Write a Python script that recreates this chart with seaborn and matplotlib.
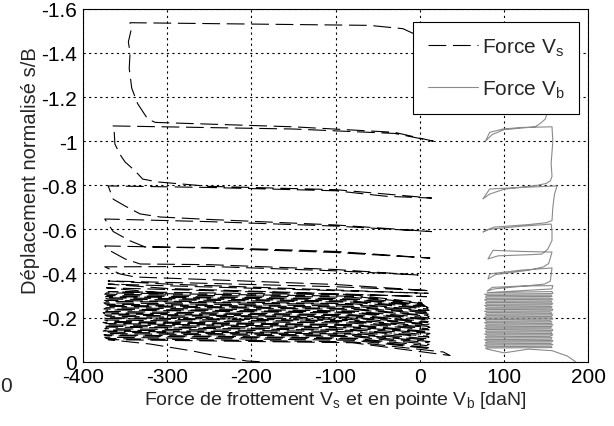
import numpy as np
import pandas as pd
import matplotlib
matplotlib.use("Agg")
import matplotlib.pyplot as plt
import seaborn as sns
from matplotlib import font_manager

# --- data (force in daN, normalised displacement s/B) ---

# Vs: first loading then the dense block of cycles
vs_start_x = [-190, -205, -240, -269, -320, -370]
vs_start_y = [0.0, -0.003, -0.025, -0.048, -0.080, -0.100]

vs_blk_left_x = [-368, -372, -374, -371, -375, -373, -370, -376, -372, -374, -371, -375, -373, -372, -376, -370,
                 -374, -373, -375, -371, -374, -372, -376, -373, -370, -375, -372, -374, -371, -373, -375, -372,
                 -374, -370, -375, -373, -371, -374, -372, -370]
vs_blk_left_y = [-0.100, -0.105, -0.111, -0.118, -0.122, -0.128, -0.134, -0.139, -0.144, -0.150, -0.157, -0.161,
                 -0.167, -0.173, -0.178, -0.183, -0.189, -0.196, -0.200, -0.206, -0.212, -0.217, -0.222, -0.228,
                 -0.235, -0.239, -0.245, -0.251, -0.256, -0.261, -0.267, -0.274, -0.278, -0.284, -0.290, -0.295,
                 -0.300, -0.306, -0.312, -0.318]
vs_blk_bend_x = -80
vs_blk_bend_y = [-0.086, -0.090, -0.097, -0.103, -0.107, -0.114, -0.119, -0.125, -0.129, -0.136, -0.142, -0.146,
                 -0.153, -0.158, -0.164, -0.168, -0.175, -0.181, -0.186, -0.191, -0.198, -0.202, -0.208, -0.213,
                 -0.220, -0.225, -0.230, -0.237, -0.241, -0.247, -0.252, -0.259, -0.263, -0.270, -0.275, -0.281,
                 -0.285, -0.292, -0.297, -0.303]
vs_blk_right_x = [36, 28, 14, 10, 8, 11, 9, 12, 10, 8, 11, 10, 9, 12, 8, 10,
                  11, 9, 12, 10, 8, 11, 9, 10, 12, 8, 10, 11, 9, 10, 12, 8,
                  11, 9, 10, 8, 6, 4, 3, 2]
vs_blk_right_y = [-0.028, -0.044, -0.058, -0.064, -0.073, -0.079, -0.087, -0.091, -0.098, -0.104, -0.111, -0.115,
                  -0.122, -0.128, -0.133, -0.137, -0.144, -0.150, -0.155, -0.160, -0.167, -0.171, -0.177, -0.182,
                  -0.189, -0.194, -0.199, -0.206, -0.210, -0.216, -0.221, -0.228, -0.232, -0.239, -0.244, -0.250,
                  -0.254, -0.259, -0.264, -0.268]

# Vs: the large strokes above the block
vs_up_x = [-300, -372, 8, -300, -370, 10, -300, -370,
           -250, -100, 12,
           -100, -250, -338, -356, -374,
           -250, -100, -2,
           -100, -250, -332, -350, -371, -374,
           -250, -100, 12,
           -100, -250, -326, -344, -364, -374,
           -250, -100, 14,
           -100, -250, -308, -332, -350, -364, -370,
           -250, -100, -40, 14,
           -100, -250, -311, -329, -338, -350, -356, -362, -363, -365,
           -150, -30, 16,
           -30, -150, -314, -323, -335, -338, -342, -345, -344, -346, -343, -344,
           -60, -20, -3]
vs_up_y = [-0.310, -0.335, -0.295, -0.332, -0.352, -0.310, -0.352, -0.366,
           -0.355, -0.340, -0.322,
           -0.350, -0.372, -0.384, -0.398, -0.430,
           -0.432, -0.412, -0.393,
           -0.418, -0.440, -0.443, -0.466, -0.510, -0.525,
           -0.515, -0.495, -0.470,
           -0.500, -0.518, -0.520, -0.548, -0.590, -0.647,
           -0.635, -0.615, -0.590,
           -0.620, -0.645, -0.656, -0.670, -0.706, -0.737, -0.797,
           -0.790, -0.775, -0.750, -0.742,
           -0.780, -0.795, -0.815, -0.828, -0.865, -0.906, -0.940, -0.987, -1.055, -1.069,
           -1.055, -1.035, -1.000,
           -1.040, -1.065, -1.085, -1.100, -1.170, -1.200, -1.240, -1.330, -1.400, -1.450, -1.500, -1.537,
           -1.525, -1.510, -1.480]

# Vb: first loading and dense block
vb_start_x = [185, 175, 157, 129, 100, 80]
vb_start_y = [0.0, -0.026, -0.050, -0.057, -0.040, -0.057]

vb_blk_left_x = [78, 80, 77, 79, 78, 80, 77, 79, 78, 80, 77, 79, 78, 80, 77, 79, 78, 80, 77, 79,
                 78, 80, 77, 79, 78, 80, 77, 79, 78, 80, 77, 79, 78, 80, 77, 79, 78, 80, 77, 80]
vb_blk_left_y = [-0.062, -0.068, -0.075, -0.081, -0.088, -0.094, -0.100, -0.107, -0.113, -0.120, -0.126, -0.133,
                 -0.139, -0.146, -0.152, -0.158, -0.165, -0.171, -0.178, -0.184, -0.191, -0.197, -0.203, -0.210,
                 -0.216, -0.223, -0.229, -0.236, -0.242, -0.248, -0.255, -0.261, -0.268, -0.274, -0.281, -0.287,
                 -0.294, -0.300, -0.306, -0.313]
vb_blk_right_x = [157, 156, 158, 155, 157, 158, 156, 157, 155, 158, 157, 156, 158, 157, 155, 157, 158, 156, 157, 155,
                  158, 157, 156, 158, 157, 155, 157, 158, 156, 157, 155, 158, 157, 156, 158, 155, 157, 156, 158, 157]
vb_blk_right_y = [-0.064, -0.070, -0.077, -0.083, -0.090, -0.096, -0.102, -0.109, -0.115, -0.122, -0.128, -0.135,
                  -0.141, -0.148, -0.154, -0.160, -0.167, -0.173, -0.180, -0.186, -0.193, -0.199, -0.205, -0.212,
                  -0.218, -0.225, -0.231, -0.238, -0.244, -0.250, -0.257, -0.263, -0.270, -0.276, -0.283, -0.289,
                  -0.296, -0.302, -0.309, -0.318]

# Vb: strokes above the block
vb_up_x = [157, 158,
           120, 86, 80,
           88, 130, 148, 155,
           156, 157,
           120, 83, 81,
           90, 130, 147, 153,
           155, 157,
           120, 87, 81,
           93, 130, 145, 152,
           157, 157, 156,
           120, 81, 75,
           88, 130, 150, 157,
           158, 160, 163,
           120, 83, 75,
           83, 100, 140, 150, 155,
           157, 156, 157, 158, 157,
           120, 99, 83, 78,
           86, 100, 137, 143, 149, 151,
           152, 153, 154,
           110, 80]
vb_up_y = [-0.330, -0.345,
           -0.343, -0.337, -0.320,
           -0.330, -0.345, -0.352, -0.365,
           -0.395, -0.425,
           -0.415, -0.398, -0.375,
           -0.395, -0.415, -0.430, -0.445,
           -0.470, -0.497,
           -0.500, -0.505, -0.466,
           -0.480, -0.485, -0.488, -0.510,
           -0.550, -0.590, -0.624,
           -0.614, -0.600, -0.588,
           -0.610, -0.622, -0.630, -0.640,
           -0.700, -0.760, -0.797,
           -0.790, -0.783, -0.738,
           -0.760, -0.782, -0.800, -0.808, -0.820,
           -0.840, -0.900, -0.950, -1.000, -1.065,
           -1.062, -1.055, -1.040, -1.000,
           -1.030, -1.052, -1.065, -1.080, -1.100, -1.124,
           -1.250, -1.400, -1.520,
           -1.515, -1.500]

x_ticks = [-400, -300, -200, -100, 0, 100, 200]
y_ticks = [0, -0.2, -0.4, -0.6, -0.8, -1, -1.2, -1.4, -1.6]
y_tick_labels = ["0", "-0.2", "-0.4", "-0.6", "-0.8", "-1", "-1.2", "-1.4", "-1.6"]


# block cycles drawn as a serpentine: one sweep to the right, next sweep back to the left
xs, ys = list(vs_start_x), list(vs_start_y)
for i, (lx, ly, by, rx, ry) in enumerate(zip(vs_blk_left_x, vs_blk_left_y, vs_blk_bend_y,
                                             vs_blk_right_x, vs_blk_right_y)):
    px, py = [lx, vs_blk_bend_x, rx], [ly, by, ry]
    if i % 2:
        px, py = px[::-1], py[::-1]
    xs += px
    ys += py
vs = pd.DataFrame({"x": xs + vs_up_x, "y": ys + vs_up_y})

xs, ys = list(vb_start_x), list(vb_start_y)
for i, (lx, ly, rx, ry) in enumerate(zip(vb_blk_left_x, vb_blk_left_y, vb_blk_right_x, vb_blk_right_y)):
    px, py = [lx, rx], [ly, ry]
    if i % 2:
        px, py = px[::-1], py[::-1]
    xs += px
    ys += py
vb = pd.DataFrame({"x": xs + vb_up_x, "y": ys + vb_up_y})

# --- style ---
sns.set_style("white")
names = {f.name for f in font_manager.fontManager.ttflist}
fam = "Liberation Sans Narrow" if "Liberation Sans Narrow" in names else "Liberation Sans"
plt.rcParams["font.family"] = [fam, "DejaVu Sans"]
plt.rcParams["mathtext.fontset"] = "custom"
plt.rcParams["mathtext.rm"] = fam
plt.rcParams["mathtext.default"] = "regular"
plt.rcParams["axes.unicode_minus"] = False

fig = plt.figure(figsize=(6.14, 4.27), dpi=100)
ax = fig.add_axes([0.135, 0.1506, 0.823, 0.8264])

sns.lineplot(data=vs, x="x", y="y", sort=False, estimator=None, ax=ax,
             color="black", lw=0.8, linestyle=(0, (16, 6)), label="Force V$_s$")
sns.lineplot(data=vb, x="x", y="y", sort=False, estimator=None, ax=ax,
             color="#8a8a8a", lw=0.8, label="Force V$_b$")

ax.set_xlim(-400, 200)
ax.set_ylim(0, -1.6)
ax.set_xticks(x_ticks)
ax.set_yticks(y_ticks)
ax.set_yticklabels(y_tick_labels)
ax.tick_params(direction="in", length=4, labelsize=15, colors="black", pad=4)
ax.grid(True, color="black", linestyle=(0, (2, 3)), lw=0.8)
for s in ax.spines.values():
    s.set_color("black")
    s.set_linewidth(0.8)

ax.set_xlabel("Force de frottement V$_s$ et en pointe V$_b$ [daN]", fontsize=14, labelpad=2)
ax.set_ylabel("Déplacement normalisé s/B", fontsize=14.5)
ax.yaxis.set_label_coords(-0.085, 0.545)

leg = ax.legend(loc="upper right", bbox_to_anchor=(0.982, 0.963), borderaxespad=0,
                fancybox=False, framealpha=1, edgecolor="black", fontsize=15,
                handlelength=2.4, labelspacing=1.0, borderpad=0.7, handletextpad=0.2)
leg.get_frame().set_linewidth(0.8)

fig.text(0.0, 0.096, "0", fontsize=15, ha="left", va="center")

fig.savefig("out.png", dpi=100)
